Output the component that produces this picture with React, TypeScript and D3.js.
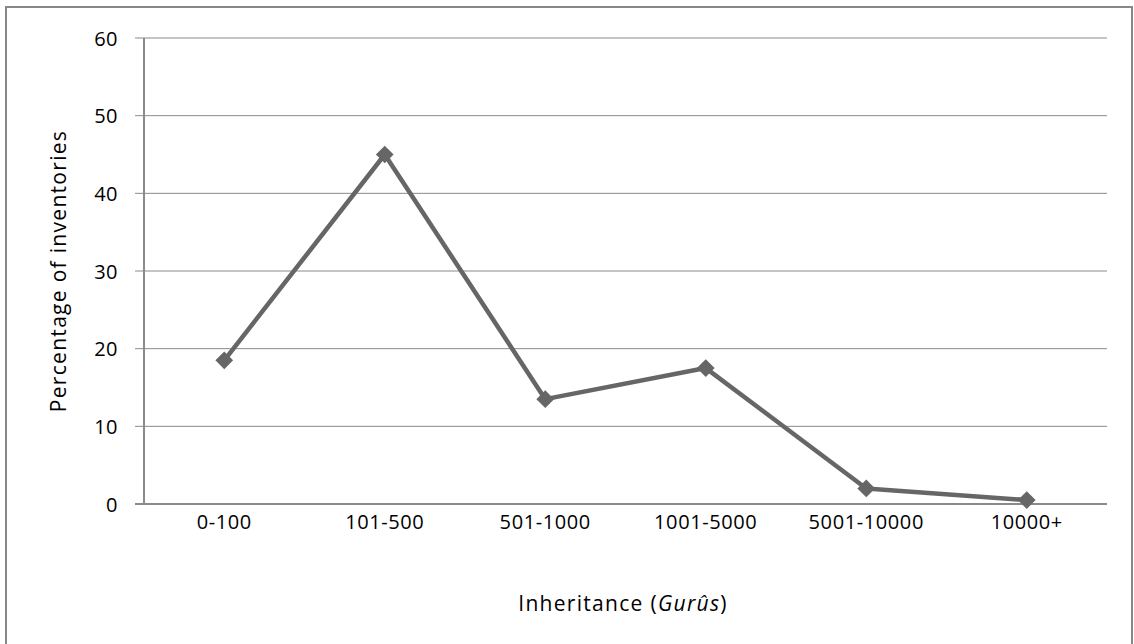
import React from "react";
import * as d3 from "d3";

const categories = ["0-100", "101-500", "501-1000", "1001-5000", "5001-10000", "10000+"];
const percentages = [18.5, 45, 13.5, 17.5, 2, 0.5];
const yTicks = [0, 10, 20, 30, 40, 50, 60];

const W = 1134;
const H = 644;
const margin = { left: 144, right: 27, top: 38, bottom: 140 };
const FONT = "'Open Sans', 'Noto Sans', sans-serif";

export default function App() {
  const x = d3
    .scaleBand<string>()
    .domain(categories)
    .range([margin.left, W - margin.right]);
  const y = d3.scaleLinear().domain([0, 60]).range([H - margin.bottom, margin.top]);

  const cx = (i: number) => (x(categories[i]) as number) + x.bandwidth() / 2;

  const line = d3
    .line<number>()
    .x((_, i) => cx(i))
    .y((d) => y(d));

  const diamond = d3.symbol().type(d3.symbolDiamond2).size(200)() as string;

  return (
    <svg
      width={W}
      height={H}
      style={{ position: "absolute", left: 0, top: 0, background: "#fff" }}
      fontFamily={FONT}
    >
      <rect x={6} y={7} width={1126} height={640} fill="#fff" stroke="#888" strokeWidth={2} />

      {/* horizontal gridlines and y ticks */}
      {yTicks.map((t) => (
        <g key={t}>
          <line
            x1={margin.left - 9}
            x2={W - margin.right}
            y1={y(t)}
            y2={y(t)}
            stroke="#8a8a8a"
            strokeWidth={t === 0 ? 2 : 1}
          />
          <text
            x={118}
            y={y(t)}
            textAnchor="end"
            dominantBaseline="central"
            fontSize={20}
            letterSpacing={0.5}
            fill="#000"
          >
            {t}
          </text>
        </g>
      ))}

      {/* y axis */}
      <line
        x1={margin.left}
        x2={margin.left}
        y1={y(60)}
        y2={y(0)}
        stroke="#8a8a8a"
        strokeWidth={2}
      />

      {/* category labels */}
      {categories.map((c, i) => (
        <text
          key={c}
          x={cx(i)}
          y={521}
          textAnchor="middle"
          dominantBaseline="central"
          fontSize={20}
          letterSpacing={0.6}
          fill="#000"
        >
          {c}
        </text>
      ))}

      {/* series */}
      <path
        d={line(percentages) as string}
        fill="none"
        stroke="#666"
        strokeWidth={4.5}
        strokeLinejoin="round"
      />
      {percentages.map((v, i) => (
        <path key={i} d={diamond} transform={`translate(${cx(i)},${y(v)})`} fill="#666" />
      ))}

      {/* axis titles */}
      <text
        transform={`translate(58,${(y(0) + y(60)) / 2}) rotate(-90)`}
        textAnchor="middle"
        dominantBaseline="central"
        fontSize={21}
        letterSpacing={1.3}
        fill="#000"
      >
        Percentage of inventories
      </text>
      <text
        x={623}
        y={603}
        textAnchor="middle"
        dominantBaseline="central"
        fontSize={21}
        letterSpacing={1.3}
        fill="#000"
      >
        Inheritance (<tspan fontStyle="italic">Gurûs</tspan>)
      </text>
    </svg>
  );
}
